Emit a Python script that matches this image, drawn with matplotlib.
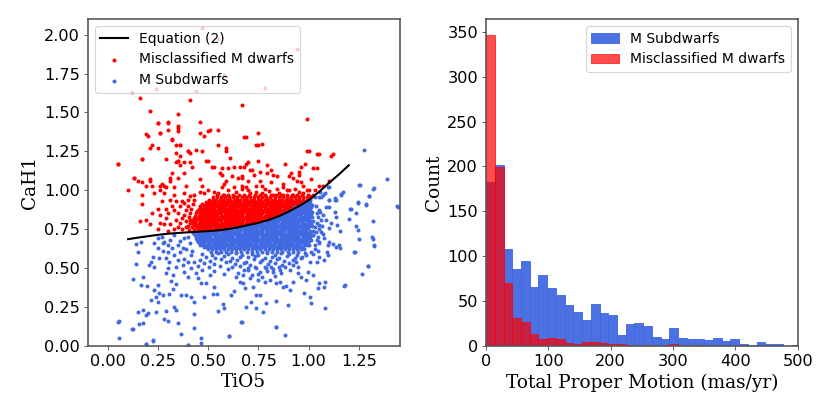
import matplotlib
matplotlib.use("Agg")
import matplotlib.pyplot as plt
import numpy as np

# Equation (2) curve
eq_tio5 = [0.10, 0.15, 0.20, 0.25, 0.30, 0.35, 0.40, 0.45, 0.50, 0.55, 0.60, 0.65,
           0.70, 0.75, 0.80, 0.85, 0.90, 0.95, 1.00, 1.05, 1.10, 1.15, 1.20]
eq_cah1 = [0.685, 0.695, 0.704, 0.713, 0.720, 0.725, 0.729, 0.733, 0.737, 0.742, 0.750, 0.762,
           0.776, 0.790, 0.808, 0.832, 0.862, 0.896, 0.935, 0.987, 1.045, 1.100, 1.160]

# misclassified M dwarfs: scattered points (TiO5, CaH1)
red_scatter = [
    (0.05, 1.17), (0.10, 1.00), (0.13, 1.08), (0.15, 1.06), (0.17, 1.05), (0.17, 1.20), (0.16, 1.59),
    (0.19, 1.36), (0.21, 1.51), (0.21, 1.27), (0.22, 1.29), (0.21, 1.06), (0.22, 1.03), (0.17, 0.91),
    (0.25, 1.43), (0.26, 1.37), (0.30, 1.43), (0.30, 1.39), (0.32, 1.33), (0.35, 1.49), (0.35, 1.40),
    (0.35, 1.38), (0.36, 1.29), (0.34, 1.29), (0.36, 1.22), (0.35, 1.19), (0.34, 1.18), (0.40, 1.25),
    (0.41, 1.58), (0.46, 1.44), (0.46, 1.37), (0.50, 1.38), (0.51, 1.39), (0.55, 1.39), (0.44, 1.26),
    (0.47, 1.25), (0.50, 1.19), (0.55, 1.29), (0.59, 1.27), (0.67, 1.55), (0.69, 1.34), (0.75, 1.37),
    (0.75, 1.29), (0.77, 1.30), (0.99, 1.46), (1.00, 1.25), (1.05, 1.23), (1.12, 1.23), (0.88, 1.17),
    (0.98, 1.17), (1.02, 1.14), (1.10, 1.06), (0.69, 1.17), (0.79, 1.16), (0.27, 1.04), (0.26, 1.00),
    (0.29, 1.02), (0.32, 1.11), (0.38, 1.11), (0.41, 1.18), (0.52, 1.15), (0.56, 1.11), (0.62, 1.09),
    (0.66, 1.15), (0.72, 1.13), (0.82, 1.10), (0.91, 1.11), (0.94, 1.06),
    (0.47, 2.04), (0.55, 1.97), (0.94, 1.91), (0.12, 1.63), (0.24, 1.65), (0.44, 1.64), (0.78, 1.66),
    (0.58, 1.74),
    (0.25, 1.43), (0.30, 1.44), (0.35, 1.41), (0.26, 1.37), (0.20, 1.35), (0.48, 1.35), (0.32, 1.32),
    (0.36, 1.29), (0.25, 1.27), (0.34, 1.24), (0.40, 1.25), (0.41, 1.24), (0.59, 1.25), (0.61, 1.21),
    (0.29, 1.20), (0.17, 1.20), (0.05, 1.17), (0.35, 1.19), (0.38, 1.18), (0.36, 1.16), (0.42, 1.15),
    (0.49, 1.19), (0.53, 1.15), (0.57, 1.14), (0.60, 1.14), (0.63, 1.15), (0.68, 1.15), (0.31, 1.08),
    (0.35, 1.08), (0.13, 1.08), (0.21, 1.07), (0.19, 1.03), (0.26, 1.03), (0.31, 1.06), (0.28, 1.03),
    (0.33, 1.02), (0.39, 1.03), (0.46, 1.07), (0.47, 1.03), (0.57, 1.10), (0.59, 1.06), (0.65, 1.08),
    (0.67, 1.09), (0.58, 1.04), (0.63, 1.02), (0.67, 1.01), (0.23, 0.98), (0.28, 0.98), (0.33, 0.97),
    (0.38, 0.98), (0.43, 0.97), (0.48, 0.98), (0.53, 0.99), (0.58, 0.97), (0.63, 0.96),
    (0.68, 1.34), (0.74, 1.29), (0.99, 1.25), (1.04, 1.23), (1.11, 1.22), (0.70, 1.18), (0.75, 1.19),
    (0.96, 1.15), (1.04, 1.14), (0.71, 1.13), (0.81, 1.13), (0.76, 1.12), (0.79, 1.11), (0.95, 1.12),
    (0.95, 1.10), (0.73, 1.10), (0.84, 1.09), (0.90, 1.09), (0.92, 1.08), (1.01, 1.07), (0.67, 1.08),
    (0.70, 1.06), (0.76, 1.06), (0.81, 1.05), (0.87, 1.04), (0.96, 1.05), (1.07, 1.03), (0.69, 1.02),
    (0.74, 1.03), (0.78, 1.01), (0.84, 1.01), (0.89, 1.00), (0.93, 1.01), (0.99, 1.00), (1.03, 1.00),
    (1.05, 1.03), (0.71, 0.98), (0.77, 0.98), (0.82, 0.97), (0.87, 0.97), (0.92, 0.97), (0.97, 0.98),
    (1.00, 0.96),
    (0.17, 0.97), (0.16, 0.80), (0.19, 0.81), (0.21, 0.78), (0.25, 0.75), (0.26, 0.79), (0.29, 0.82),
    (0.31, 0.78), (0.33, 0.75), (0.26, 0.84), (0.25, 0.88), (0.27, 0.93), (0.31, 0.94), (0.33, 0.87),
    (0.36, 0.90), (0.38, 0.84), (0.36, 0.79), (0.40, 0.77), (0.41, 0.81), (0.40, 0.94), (0.37, 0.93),
    (0.29, 0.88), (0.34, 0.81), (0.39, 0.87), (0.22, 0.85), (0.30, 0.74),
    (0.35, 0.76), (0.37, 0.82), (0.39, 0.80), (0.41, 0.85), (0.40, 0.90), (0.38, 0.92), (0.35, 0.85),
    (0.32, 0.90), (0.34, 0.93), (0.41, 0.96), (0.37, 0.75), (0.39, 0.76), (0.28, 0.78), (0.30, 0.85),
    (0.405, 0.745), (0.41, 0.79), (0.405, 0.83), (0.415, 0.88), (0.425, 0.91), (0.43, 0.94),
    (0.46, 0.99), (0.50, 1.00), (0.55, 0.985), (0.60, 1.00), (0.64, 0.99), (0.70, 1.00), (0.74, 0.99),
    (0.80, 0.995), (0.85, 0.985), (0.90, 1.00), (0.95, 0.99), (1.00, 1.00), (0.57, 1.02), (0.67, 1.03),
    (0.77, 1.03), (0.87, 1.02), (0.97, 1.03),
]

# misclassified M dwarfs: crowded band just above the curve, one CaH1 level per row
red_row_cah1 = [0.745, 0.760, 0.775, 0.790, 0.805, 0.820, 0.835, 0.850,
                0.865, 0.880, 0.895, 0.910, 0.925, 0.940, 0.955, 0.970]
red_row_tio5 = [
    [0.430, 0.446, 0.461, 0.477, 0.492, 0.508, 0.523, 0.539, 0.553],
    [0.421, 0.437, 0.452, 0.468, 0.484, 0.499, 0.515, 0.531, 0.546, 0.562, 0.578, 0.593, 0.609, 0.625],
    [0.427, 0.443, 0.458, 0.474, 0.490, 0.505, 0.521, 0.537, 0.552, 0.568, 0.584, 0.599, 0.615, 0.631,
     0.646, 0.662, 0.678, 0.692],
    [0.420, 0.435, 0.451, 0.467, 0.482, 0.498, 0.514, 0.529, 0.545, 0.561, 0.576, 0.592, 0.608, 0.623,
     0.639, 0.655, 0.670, 0.686, 0.702, 0.717, 0.733, 0.745],
    [0.424, 0.440, 0.456, 0.471, 0.487, 0.503, 0.518, 0.534, 0.550, 0.565, 0.581, 0.597, 0.612, 0.628,
     0.644, 0.659, 0.675, 0.691, 0.706, 0.722, 0.738, 0.753, 0.769, 0.783],
    [0.430, 0.446, 0.461, 0.477, 0.493, 0.508, 0.524, 0.540, 0.555, 0.571, 0.587, 0.602, 0.618, 0.634,
     0.649, 0.665, 0.681, 0.696, 0.712, 0.728, 0.743, 0.759, 0.775, 0.790, 0.806, 0.819],
    [0.435, 0.451, 0.467, 0.482, 0.498, 0.514, 0.529, 0.545, 0.561, 0.576, 0.592, 0.608, 0.623, 0.639,
     0.655, 0.670, 0.686, 0.702, 0.717, 0.733, 0.749, 0.764, 0.780, 0.796, 0.811, 0.827, 0.843, 0.852],
    [0.440, 0.456, 0.471, 0.487, 0.503, 0.518, 0.534, 0.550, 0.565, 0.581, 0.597, 0.612, 0.628, 0.644,
     0.659, 0.675, 0.691, 0.706, 0.722, 0.738, 0.753, 0.769, 0.785, 0.800, 0.816, 0.832, 0.847, 0.863,
     0.876],
    [0.445, 0.461, 0.476, 0.492, 0.508, 0.523, 0.539, 0.555, 0.570, 0.586, 0.602, 0.617, 0.633, 0.649,
     0.664, 0.680, 0.696, 0.711, 0.727, 0.743, 0.758, 0.774, 0.790, 0.805, 0.821, 0.837, 0.852, 0.868,
     0.884, 0.899],
    [0.452, 0.468, 0.483, 0.499, 0.515, 0.530, 0.546, 0.562, 0.577, 0.593, 0.609, 0.624, 0.640, 0.656,
     0.671, 0.687, 0.703, 0.718, 0.734, 0.750, 0.765, 0.781, 0.797, 0.812, 0.828, 0.844, 0.859, 0.875,
     0.891, 0.906, 0.921],
    [0.460, 0.476, 0.491, 0.507, 0.523, 0.538, 0.554, 0.570, 0.585, 0.601, 0.617, 0.632, 0.648, 0.664,
     0.679, 0.695, 0.711, 0.726, 0.742, 0.758, 0.773, 0.789, 0.805, 0.820, 0.836, 0.852, 0.867, 0.883,
     0.899, 0.914, 0.930, 0.943],
    [0.470, 0.486, 0.501, 0.517, 0.533, 0.548, 0.564, 0.580, 0.595, 0.611, 0.627, 0.642, 0.658, 0.674,
     0.689, 0.705, 0.721, 0.736, 0.752, 0.768, 0.783, 0.799, 0.815, 0.830, 0.846, 0.862, 0.877, 0.893,
     0.909, 0.924, 0.940, 0.955, 0.965],
    [0.488, 0.504, 0.519, 0.535, 0.551, 0.566, 0.582, 0.598, 0.613, 0.629, 0.645, 0.660, 0.676, 0.692,
     0.707, 0.723, 0.739, 0.754, 0.770, 0.786, 0.801, 0.817, 0.833, 0.848, 0.864, 0.880, 0.895, 0.911,
     0.927, 0.942, 0.958, 0.973, 0.984],
    [0.505, 0.522, 0.540, 0.557, 0.574, 0.591, 0.609, 0.626, 0.643, 0.660, 0.678, 0.695, 0.712, 0.729,
     0.747, 0.764, 0.781, 0.798, 0.816, 0.833, 0.850, 0.867, 0.885, 0.902, 0.919, 0.936, 0.954, 0.971,
     0.990],
    [0.522, 0.543, 0.563, 0.584, 0.604, 0.625, 0.645, 0.666, 0.686, 0.707, 0.727, 0.748, 0.768, 0.789,
     0.809, 0.830, 0.850, 0.871, 0.891, 0.912, 0.932, 0.953, 0.973, 0.994, 1.010],
    [0.545, 0.572, 0.598, 0.625, 0.651, 0.678, 0.704, 0.731, 0.757, 0.784, 0.810, 0.837, 0.863, 0.890,
     0.916, 0.943, 0.969, 0.996, 1.020],
]

# M subdwarfs: scattered points (TiO5, CaH1)
blue_scatter = [
    (0.165, 0.668), (0.14, 0.651), (0.148, 0.60), (0.14, 0.525), (0.123, 0.426), (0.173, 0.443),
    (0.194, 0.386), (0.165, 0.39), (0.214, 0.54), (0.206, 0.518), (0.231, 0.508), (0.256, 0.561),
    (0.272, 0.608), (0.248, 0.626), (0.281, 0.668), (0.297, 0.647), (0.289, 0.561), (0.306, 0.54),
    (0.297, 0.497), (0.289, 0.465), (0.322, 0.454), (0.339, 0.508), (0.314, 0.416), (0.339, 0.394),
    (0.322, 0.364), (0.372, 0.518), (0.38, 0.476), (0.397, 0.443), (0.414, 0.497), (0.43, 0.54),
    (0.397, 0.54), (0.414, 0.583), (0.372, 0.626), (0.347, 0.647), (0.331, 0.711), (0.38, 0.69),
    (0.248, 0.69), (0.272, 0.658), (0.223, 0.572), (0.256, 0.336), (0.248, 0.39), (0.231, 0.358),
    (0.239, 0.315), (0.272, 0.326), (0.214, 0.294), (0.248, 0.283), (0.306, 0.332), (0.364, 0.326),
    (0.389, 0.326), (0.414, 0.315), (0.43, 0.283), (0.331, 0.251), (0.339, 0.23), (0.289, 0.223),
    (0.239, 0.214), (0.198, 0.208), (0.148, 0.219), (0.173, 0.23), (0.19, 0.197), (0.156, 0.137),
    (0.123, 0.105), (0.053, 0.159), (0.053, 0.052), (0.173, 0.144), (0.223, 0.03), (0.19, 0.011),
    (0.297, 0.159), (0.281, 0.172), (0.347, 0.148), (0.364, 0.073), (0.43, 0.204), (0.43, 0.116),
    (0.463, 0.052), (0.397, 0.005), (0.463, 0.015), (0.488, 0.401), (0.521, 0.332), (0.543, 0.332),
    (0.546, 0.223), (0.571, 0.266), (0.58, 0.24), (0.605, 0.065), (0.613, 0.326), (0.629, 0.351),
    (0.666, 0.155), (0.671, 0.401), (0.53, 0.379), (0.48, 0.315), (0.463, 0.401), (0.447, 0.433),
    (0.30, 0.60), (0.33, 0.58), (0.36, 0.60), (0.39, 0.62), (0.41, 0.66), (0.36, 0.67), (0.40, 0.70),
    (0.42, 0.61), (0.35, 0.55), (0.38, 0.56), (0.32, 0.63), (0.27, 0.70), (0.31, 0.68), (0.23, 0.66),
    (1.444, 0.893), (1.287, 0.908), (1.245, 0.921), (1.209, 0.882), (1.199, 0.814), (1.237, 0.85),
    (1.32, 0.801), (1.234, 0.771), (1.245, 0.743), (1.25, 0.685), (1.317, 0.696), (1.328, 0.643),
    (1.229, 0.60), (1.298, 0.512), (1.265, 0.458), (1.18, 0.39), (1.154, 0.737), (1.141, 0.775),
    (1.151, 0.647), (1.137, 0.636), (1.154, 0.625), (1.121, 0.651), (1.104, 0.668), (1.091, 0.604),
    (1.096, 0.583), (1.079, 0.551), (1.054, 0.572), (1.041, 0.54), (1.084, 0.407), (1.079, 0.379),
    (1.084, 0.24), (1.054, 0.401), (1.046, 0.369), (1.005, 0.315), (0.975, 0.341), (1.013, 0.272),
    (0.963, 0.443), (0.988, 0.422), (1.024, 0.454), (0.996, 0.476), (0.946, 0.465), (0.922, 0.407),
    (0.905, 0.358), (0.888, 0.386), (0.897, 0.262), (0.839, 0.287), (0.835, 0.401), (0.855, 0.411),
    (0.872, 0.379), (0.789, 0.272), (0.772, 0.214), (0.739, 0.244), (0.689, 0.251), (0.714, 0.283),
    (0.739, 0.326), (0.759, 0.326), (0.839, 0.122), (0.88, 0.069), (0.664, 0.15), (0.805, 0.422),
    (0.78, 0.411), (0.747, 0.422), (0.706, 0.433), (0.673, 0.454), (0.681, 0.369), (0.722, 0.379),
    (0.656, 0.411), (1.104, 0.936), (1.134, 0.936), (1.063, 0.957), (1.087, 0.893), (1.054, 0.872),
    (1.071, 0.84), (1.046, 0.829), (1.087, 0.808), (1.112, 0.786), (1.137, 0.829), (1.129, 0.861),
    (1.104, 0.754), (1.063, 0.732), (1.054, 0.775), (1.079, 0.69), (1.054, 0.668), (1.03, 0.647),
    (1.096, 0.647), (1.024, 0.711), (1.005, 0.70), (1.013, 0.604), (0.988, 0.583), (1.005, 0.54),
    (0.963, 0.561), (0.938, 0.54), (0.946, 0.508), (0.922, 0.518), (0.905, 0.486), (0.88, 0.508),
    (0.855, 0.486), (0.822, 0.476), (0.814, 0.508), (0.789, 0.497), (0.756, 0.476), (0.731, 0.508),
    (0.697, 0.497), (0.676, 0.486),
    (1.275, 1.257), (1.392, 1.07), (1.25, 1.032), (1.32, 1.01), (1.30, 0.961), (1.245, 0.918),
    (1.284, 0.903), (1.441, 0.897), (1.207, 0.882), (1.171, 0.989), (1.163, 0.974), (1.104, 0.936),
    (1.129, 0.94), (1.071, 0.968), (1.096, 1.021), (1.055, 0.989), (1.03, 0.957), (1.005, 0.936),
    (1.104, 0.893), (1.328, 1.015), (1.254, 1.032), (1.303, 0.962), (1.162, 0.968), (1.10, 1.022),
    (1.084, 0.979), (1.054, 0.957), (1.129, 0.947), (1.328, 0.647), (1.32, 0.685), (1.295, 0.512),
    (1.228, 0.604), (1.178, 0.385), (0.835, 0.122), (0.603, 0.062), (0.398, 0.004), (0.05, 0.154),
    (0.121, 0.105), (0.188, 0.009), (0.224, 0.037),
    (1.04, 0.79), (1.05, 0.75), (1.045, 0.70), (1.06, 0.81), (1.04, 0.85), (1.05, 0.66),
    (1.035, 0.73), (1.07, 0.72), (1.065, 0.77), (1.03, 0.62), (1.045, 0.61), (1.02, 0.59),
    (1.04, 0.68), (1.03, 0.76), (1.055, 0.86), (1.035, 0.90),
    (0.47, 0.592), (0.52, 0.585), (0.55, 0.596), (0.60, 0.588), (0.64, 0.594), (0.67, 0.583),
    (0.72, 0.591), (0.75, 0.586), (0.79, 0.597), (0.83, 0.584), (0.86, 0.593), (0.90, 0.589),
    (0.94, 0.581), (0.98, 0.595), (0.49, 0.571), (0.535, 0.566), (0.58, 0.576), (0.62, 0.563),
    (0.66, 0.573), (0.70, 0.568), (0.735, 0.578), (0.78, 0.561), (0.815, 0.572), (0.85, 0.567),
    (0.89, 0.575), (0.93, 0.562), (0.965, 0.57), (0.46, 0.553), (0.51, 0.547), (0.565, 0.556),
    (0.61, 0.545), (0.645, 0.552), (0.69, 0.541), (0.73, 0.557), (0.77, 0.549), (0.805, 0.543),
    (0.84, 0.555), (0.875, 0.546), (0.92, 0.551), (0.48, 0.533), (0.53, 0.527), (0.59, 0.538),
    (0.635, 0.524), (0.68, 0.531), (0.71, 0.52), (0.76, 0.536), (0.795, 0.525), (0.83, 0.532),
    (0.865, 0.521), (0.90, 0.529), (0.45, 0.512), (0.505, 0.506), (0.56, 0.515), (0.62, 0.503),
    (0.66, 0.511), (0.74, 0.498), (0.78, 0.509), (0.82, 0.495), (0.85, 0.505), (0.47, 0.488),
    (0.53, 0.478), (0.60, 0.492), (0.65, 0.47), (0.70, 0.485), (0.75, 0.462), (0.79, 0.48),
    (0.86, 0.468), (0.44, 0.465), (0.51, 0.452), (0.58, 0.46), (0.64, 0.443), (0.72, 0.455),
    (0.77, 0.44), (0.83, 0.45),
]

# M subdwarfs: crowded band just below the curve
blue_row_cah1 = [0.920, 0.905, 0.890, 0.875, 0.860, 0.845, 0.830, 0.815, 0.800, 0.785, 0.770,
                 0.755, 0.740, 0.725, 0.710, 0.695, 0.680, 0.665, 0.650, 0.635, 0.620, 0.605]
blue_row_tio5 = [
    [0.978, 0.994, 1.008],
    [0.955, 0.970, 0.986, 1.001, 1.015],
    [0.934, 0.950, 0.965, 0.981, 0.997, 1.012],
    [0.915, 0.931, 0.946, 0.962, 0.978, 0.993, 1.009],
    [0.893, 0.909, 0.925, 0.940, 0.956, 0.972, 0.987, 1.003, 1.019],
    [0.870, 0.886, 0.901, 0.917, 0.933, 0.948, 0.964, 0.980, 0.995, 1.011],
    [0.845, 0.861, 0.877, 0.892, 0.908, 0.924, 0.939, 0.955, 0.971, 0.986, 1.002, 1.018],
    [0.815, 0.831, 0.846, 0.862, 0.878, 0.893, 0.909, 0.925, 0.940, 0.956, 0.972, 0.987, 1.003],
    [0.786, 0.802, 0.818, 0.833, 0.849, 0.865, 0.880, 0.896, 0.912, 0.927, 0.943, 0.959, 0.974,
     0.990, 1.006, 1.021],
    [0.745, 0.761, 0.777, 0.792, 0.808, 0.824, 0.839, 0.855, 0.871, 0.886, 0.902, 0.918, 0.933,
     0.949, 0.965, 0.980, 0.996, 1.010],
    [0.690, 0.706, 0.721, 0.737, 0.753, 0.768, 0.784, 0.800, 0.815, 0.831, 0.847, 0.862, 0.878,
     0.894, 0.909, 0.925, 0.941, 0.956, 0.972, 0.988, 1.003, 1.019],
    [0.620, 0.636, 0.651, 0.667, 0.683, 0.698, 0.714, 0.730, 0.745, 0.761, 0.777, 0.792, 0.808,
     0.824, 0.839, 0.855, 0.871, 0.886, 0.902, 0.918, 0.933, 0.949, 0.965, 0.980, 0.996],
    [0.550, 0.566, 0.582, 0.597, 0.613, 0.629, 0.644, 0.660, 0.676, 0.691, 0.707, 0.723, 0.738,
     0.754, 0.770, 0.785, 0.801, 0.817, 0.832, 0.848, 0.864, 0.879, 0.895, 0.911, 0.926, 0.942,
     0.958, 0.973, 0.989, 1.005, 1.020],
    [0.425, 0.441, 0.456, 0.472, 0.488, 0.503, 0.519, 0.535, 0.550, 0.566, 0.582, 0.597, 0.613,
     0.629, 0.644, 0.660, 0.676, 0.691, 0.707, 0.723, 0.738, 0.754, 0.770, 0.785, 0.801, 0.817,
     0.832, 0.848, 0.864, 0.879, 0.895, 0.911, 0.926, 0.942, 0.958, 0.973, 0.989, 1.002],
    [0.432, 0.448, 0.463, 0.479, 0.495, 0.510, 0.526, 0.542, 0.557, 0.573, 0.589, 0.604, 0.620,
     0.636, 0.651, 0.667, 0.683, 0.698, 0.714, 0.730, 0.745, 0.761, 0.777, 0.792, 0.808, 0.824,
     0.839, 0.855, 0.871, 0.886, 0.902, 0.918, 0.933, 0.949, 0.965, 0.980, 0.996, 1.012, 1.024],
    [0.437, 0.453, 0.468, 0.484, 0.500, 0.515, 0.531, 0.547, 0.562, 0.578, 0.594, 0.609, 0.625,
     0.641, 0.656, 0.672, 0.688, 0.703, 0.719, 0.735, 0.750, 0.766, 0.782, 0.797, 0.813, 0.829,
     0.844, 0.860, 0.876, 0.891, 0.907, 0.923, 0.938, 0.954, 0.970, 0.985, 1.001],
    [0.441, 0.457, 0.472, 0.488, 0.504, 0.519, 0.535, 0.551, 0.566, 0.582, 0.598, 0.613, 0.629,
     0.645, 0.660, 0.676, 0.692, 0.707, 0.723, 0.739, 0.754, 0.770, 0.786, 0.801, 0.817, 0.833,
     0.848, 0.864, 0.880, 0.895, 0.911, 0.927, 0.942, 0.958, 0.974, 0.989, 1.005, 1.014],
    [0.449, 0.465, 0.480, 0.496, 0.512, 0.527, 0.543, 0.559, 0.574, 0.590, 0.606, 0.621, 0.637,
     0.653, 0.668, 0.684, 0.700, 0.715, 0.731, 0.747, 0.762, 0.778, 0.794, 0.809, 0.825, 0.841,
     0.856, 0.872, 0.888, 0.903, 0.919, 0.935, 0.950, 0.966, 0.982, 0.997],
    [0.458, 0.474, 0.489, 0.505, 0.521, 0.536, 0.552, 0.568, 0.583, 0.599, 0.615, 0.630, 0.646,
     0.662, 0.677, 0.693, 0.709, 0.724, 0.740, 0.756, 0.771, 0.787, 0.803, 0.818, 0.834, 0.850,
     0.865, 0.881, 0.897, 0.912, 0.928, 0.944, 0.959, 0.975, 0.991, 1.003],
    [0.478, 0.495, 0.512, 0.529, 0.546, 0.563, 0.580, 0.597, 0.614, 0.631, 0.648, 0.665, 0.682,
     0.699, 0.716, 0.733, 0.750, 0.767, 0.784, 0.801, 0.818, 0.835, 0.852, 0.869, 0.886, 0.903,
     0.920, 0.937, 0.954, 0.971],
    [0.500, 0.520, 0.540, 0.560, 0.580, 0.600, 0.620, 0.640, 0.660, 0.680, 0.700, 0.720, 0.740,
     0.760, 0.780, 0.800, 0.820, 0.840, 0.860, 0.880, 0.900, 0.920, 0.940, 0.960, 0.978],
    [0.512, 0.538, 0.563, 0.589, 0.614, 0.640, 0.665, 0.691, 0.716, 0.742, 0.767, 0.793, 0.818,
     0.844, 0.869, 0.895, 0.920, 0.946],
]

# proper motion histograms, 14 mas/yr bins starting at 0
pm_bin_width = 14
subdwarf_counts = [183, 202, 108, 86, 95, 65, 79, 64, 57, 45, 38, 29, 46, 37, 34, 12, 24, 25,
                   22, 10, 8, 20, 9, 8, 8, 6, 9, 5, 8, 2, 1, 4, 2, 2, 0, 0]
misclass_counts = [347, 199, 70, 31, 26, 13, 7, 9, 7, 3, 2, 4, 4, 3, 2, 2, 1, 0,
                   1, 0, 1, 2, 0, 0, 1, 0, 0, 0, 0, 0, 0, 0, 0, 0, 0, 1]


def unpack(scatter, row_y, row_x):
    xs = [p[0] for p in scatter]
    ys = [p[1] for p in scatter]
    for y, row in zip(row_y, row_x):
        xs += row
        ys += [y] * len(row)
    return np.array(xs), np.array(ys)


red_x, red_y = unpack(red_scatter, red_row_cah1, red_row_tio5)
blue_x, blue_y = unpack(blue_scatter, blue_row_cah1, blue_row_tio5)

plt.rcParams["axes.edgecolor"] = "#555555"
plt.rcParams["axes.linewidth"] = 1.4
plt.rcParams["xtick.color"] = "#555555"
plt.rcParams["ytick.color"] = "#555555"
plt.rcParams["xtick.labelcolor"] = "black"
plt.rcParams["ytick.labelcolor"] = "black"

fig, (ax1, ax2) = plt.subplots(1, 2, figsize=(10, 5), dpi=83)
fig.subplots_adjust(left=0.106, right=0.961, top=0.954, bottom=0.167, wspace=0.278)

ax1.plot(eq_tio5, eq_cah1, color="black", lw=1.8, label="Equation (2)")
ax1.scatter(red_x, red_y, s=12, color="red", linewidths=0, label="Misclassified M dwarfs")
ax1.scatter(blue_x, blue_y, s=12, color="royalblue", linewidths=0, label="M Subdwarfs")
ax1.set_xlim(-0.1, 1.453)
ax1.set_ylim(0, 2.1)
ax1.set_xticks([0.0, 0.25, 0.5, 0.75, 1.0, 1.25])
ax1.set_yticks([0.0, 0.25, 0.5, 0.75, 1.0, 1.25, 1.5, 1.75, 2.0])
ax1.xaxis.set_major_formatter(matplotlib.ticker.FormatStrFormatter("%.2f"))
ax1.yaxis.set_major_formatter(matplotlib.ticker.FormatStrFormatter("%.2f"))
ax1.set_xlabel("TiO5", family="DejaVu Serif", fontsize=16)
ax1.set_ylabel("CaH1", family="DejaVu Serif", fontsize=16)
ax1.tick_params(labelsize=14)
ax1.legend(loc="upper left", fontsize=12)

edges = np.arange(len(subdwarf_counts)) * pm_bin_width
ax2.bar(edges, subdwarf_counts, width=pm_bin_width, align="edge", color="royalblue",
        edgecolor="royalblue", alpha=0.95, lw=0.8, label="M Subdwarfs")
ax2.bar(edges, misclass_counts, width=pm_bin_width, align="edge", color="red",
        edgecolor="red", alpha=0.7, lw=0.8, label="Misclassified M dwarfs")
ax2.set_xlim(0, 500)
ax2.set_xlabel("Total Proper Motion (mas/yr)", family="DejaVu Serif", fontsize=16)
ax2.set_ylabel("Count", family="DejaVu Serif", fontsize=16)
ax2.tick_params(labelsize=14)
ax2.legend(loc="upper right", fontsize=12)

plt.savefig("out.png", dpi=83)
plt.close()
